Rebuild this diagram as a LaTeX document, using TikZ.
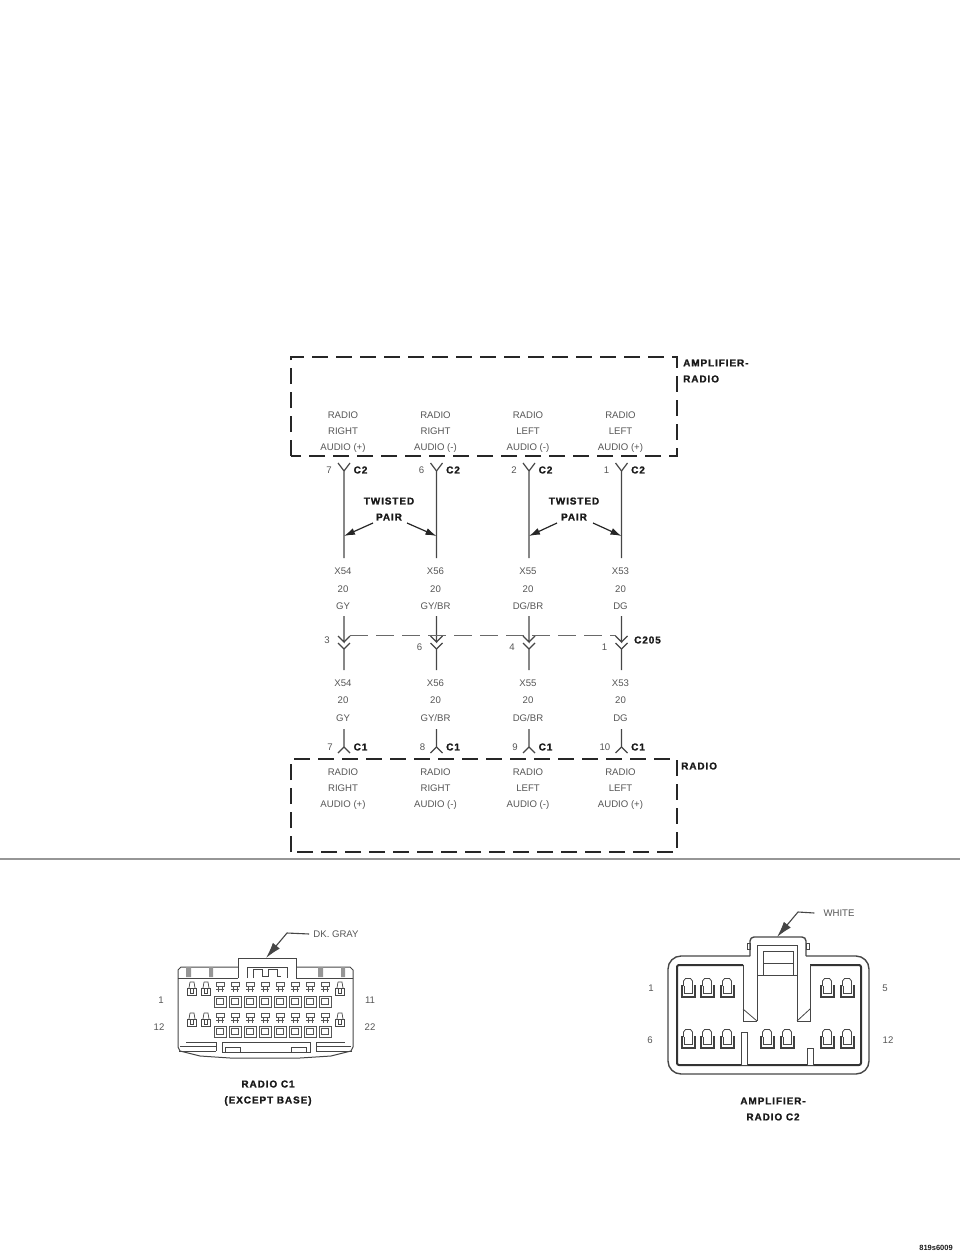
\documentclass[tikz,border=0pt]{standalone}
\usepackage{fontspec}
\setmainfont{Liberation Sans}
\newfontfamily\capsfont[LetterSpace=9,BoldFeatures={FakeBold=1.2}]{Liberation Sans}
\usetikzlibrary{arrows.meta,positioning,calc}
\definecolor{inkgray}{RGB}{70,70,70}
\definecolor{textgray}{RGB}{85,85,85}
\definecolor{rulegray}{RGB}{150,150,150}
\tikzset{
  wire/.style={draw=inkgray,line width=1.2pt},
  modulebox/.style={draw=black!85,line width=1.5pt,dash pattern=on 16pt off 8pt},
  thin label/.style={inner sep=0pt,text=textgray,font=\fontsize{9.6}{16}\selectfont,align=center},
  bold label/.style={inner sep=0pt,text=black!90,font=\capsfont\bfseries\fontsize{10}{16}\selectfont,align=center},
  pointer/.style={draw=inkgray,line width=1.1pt,-{Latex[length=16pt,width=9pt]}},
  twist arrow/.style={draw=black!85,line width=1.2pt,-{Latex[length=11pt,width=7pt]}},
  shell/.style={draw=inkgray,line width=1pt},
  shell thick/.style={draw=black!80,line width=2pt},
  pics/tpin/.style={code={
    \draw[shell,line width=.7pt,draw=textgray] (-4,-6) rectangle (4,-2);
    \draw[shell,line width=.7pt,draw=textgray] (-2,-2) -- (-2,4) (2,-2) -- (2,4) (-4,1) -- (4,1);
  }},
  pics/latchpin/.style={code={
    \draw[shell,line width=.7pt] (-2,-7) -- (2,-7) -- (3,-1) (-2,-7) -- (-3,-1);
    \draw[shell,line width=1pt] (-4.5,-1) -- (-4.5,6) -- (4.5,6) -- (4.5,-1) -- cycle;
    \draw[shell,line width=.7pt] (-1.5,-1) -- (-1.5,4) -- (1.5,4) -- (1.5,-1);
  }},
  pics/boxpin/.style={code={
    \draw[shell,line width=.7pt,draw=textgray] (-6,-5.5) rectangle (6,5.5);
    \draw[shell,line width=.8pt,draw=textgray] (-3.5,-3.5) rectangle (3.5,2.5);
  }},
  pics/socket/.style={code={
    \draw[shell,line width=.8pt] (-4.5,-2) -- (-4.5,-7) -- (-2.5,-9.5) -- (2.5,-9.5) -- (4.5,-7) -- (4.5,-2);
    \draw[draw=black!75,line width=2pt] (-6.5,-3) -- (-6.5,8.5) -- (6.5,8.5) -- (6.5,-3);
    \draw[shell,line width=.8pt] (-4,-2) -- (-4,5.5) -- (4,5.5) -- (4,-2);
  }}
}

\begin{document}
\begin{tikzpicture}[x=1pt,y=-1pt]
  \useasboundingbox (0,0) rectangle (960,1257);

  % Module boxes
  \draw[modulebox] (291,456) -- (291,357) -- (677,357) -- (677,456) -- cycle;
  \draw[modulebox] (291,852) -- (291,759) -- (677,759) -- (677,852) -- cycle;
  \node[bold label,anchor=west,align=left] (amplabel) at (683,371) {AMPLIFIER-\\RADIO};
  \node[bold label,anchor=west] (radiolabel) at (681,766) {RADIO};

  % Four circuits
  \foreach \col/\wx/\side/\sign/\wname/\tint/\pinA/\pinB/\pinC/\yB in {
    a/344/RIGHT/+/X54/GY/7/3/7/640,
    b/436.5/RIGHT/-/X56/{GY/BR}/6/6/8/647,
    c/529/LEFT/-/X55/{DG/BR}/2/4/9/647,
    d/621.5/LEFT/+/X53/DG/1/1/10/647} {
    \node[thin label] (amp\col) at (\wx-1,432.5) {RADIO\\\side\\AUDIO (\sign)};
    \node[thin label] (rad\col) at (\wx-1,789.5) {RADIO\\\side\\AUDIO (\sign)};
    % C2 side
    \coordinate (forktop\col) at (\wx,471);
    \coordinate (wireend\col) at (\wx,558);
    \draw[wire] (wireend\col) -- (forktop\col) -- ++(-6,-8);
    \draw[wire] (forktop\col) -- ++(6,-8);
    \node[thin label,anchor=east] (pintop\col) at (\wx-12,470) {\pinA};
    \node[bold label,anchor=west] (conntop\col) at (\wx+9.5,470) {C2};
    \node[thin label,font=\fontsize{9.6}{17.5}\selectfont] (upper\col) at (\wx-1,589) {\wname\\20\\\tint};
    % C205
    \coordinate (inline\col) at (\wx,616);
    \coordinate (inlinetip\col) at (\wx,642);
    \coordinate (inlinefork\col) at (\wx,649);
    \coordinate (outline\col) at (\wx,670);
    \draw[wire] (inline\col) -- (inlinetip\col) -- ++(-6,-6);
    \draw[wire] (inlinetip\col) -- ++(6,-6);
    \draw[wire] (outline\col) -- (inlinefork\col) -- ++(-6,-6);
    \draw[wire] (inlinefork\col) -- ++(6,-6);
    \node[thin label,anchor=east] (pinmid\col) at (\wx-14,\yB) {\pinB};
    \node[thin label,font=\fontsize{9.6}{17.5}\selectfont] (lower\col) at (\wx-1,700.5) {\wname\\20\\\tint};
    % C1 side
    \coordinate (dropend\col) at (\wx,729);
    \coordinate (forkbot\col) at (\wx,747);
    \draw[wire] (dropend\col) -- (forkbot\col) -- ++(-6,6);
    \draw[wire] (forkbot\col) -- ++(6,6);
    \node[thin label,anchor=east] (pinbot\col) at (\wx-11,747) {\pinC};
    \node[bold label,anchor=west] (connbot\col) at (\wx+9.5,747) {C1};
  }

  % C205 line
  \coordinate (c205start) at (350,635);
  \coordinate (c205end) at (616,635);
  \draw[draw=rulegray!70!black,line width=1pt,dash pattern=on 18pt off 8pt] (c205start) -- (c205end);
  \node[bold label,anchor=west] (c205) at (634,640) {C205};

  % Twisted pairs
  \node[bold label] (twistleft) at (389,509) {TWISTED\\PAIR};
  \node[bold label] (twistright) at (574,509) {TWISTED\\PAIR};
  \coordinate (twa) at (373,523);
  \coordinate (twb) at (407,523);
  \coordinate (twc) at (557,523);
  \coordinate (twd) at (593,523);
  \coordinate (tipa) at (344,536);
  \coordinate (tipb) at (436.5,536);
  \coordinate (tipc) at (529,536);
  \coordinate (tipd) at (621.5,536);
  \draw[twist arrow] (twa) -- (tipa);
  \draw[twist arrow] (twb) -- (tipb);
  \draw[twist arrow] (twc) -- (tipc);
  \draw[twist arrow] (twd) -- (tipd);

  % Divider
  \draw[draw=rulegray,line width=2pt] (0,858.5) -- (960,858.5);

  % Radio C1 connector
  \draw[shell] (178,978) -- (178,970) -- (181,967) -- (238,967) (296,967) -- (350,967) -- (353,970) -- (353,978);
  \draw[shell] (178,978) -- (178,1047) -- (180,1051) -- (200,1056) -- (230,1058) -- (300,1058) -- (331,1056) -- (351,1051) -- (353,1047) -- (353,978);
  \draw[shell] (178,978) -- (238,978) (296,978) -- (353,978);
  \draw[shell] (238,978) -- (238,958) -- (296,958) -- (296,978);
  \draw[shell] (247,978) -- (247,967) -- (287,967) -- (287,978);
  \draw[shell,line width=.8pt] (253,978) -- (253,969) -- (262,969) -- (262,976) -- (268,976) -- (268,969) -- (277,969) -- (277,976) -- (281,976);
  \fill[rulegray] (186,967) rectangle (191,977) (209,967) rectangle (213,977) (318,967) rectangle (323,977) (341,967) rectangle (345,977);
  \foreach \px in {220,235,250,265,280,295,310,325} {
    \pic at (\px,988) {tpin};
    \pic at (\px,1002) {boxpin};
    \pic at (\px,1019) {tpin};
    \pic at (\px,1032) {boxpin};
  }
  \foreach \px in {192,206,340} {
    \pic at (\px,989) {latchpin};
    \pic at (\px,1020) {latchpin};
  }
  \draw[shell,line width=.8pt] (180,1046) -- (216,1046) (222,1042) -- (310,1042) (316,1046) -- (351,1046);
  \draw[shell] (179,1051) -- (216,1051) (352,1051) -- (316,1051);
  \draw[shell] (186,1042) -- (216,1042) -- (216,1051) (316,1051) -- (316,1042) -- (345,1042);
  \draw[shell,line width=.8pt] (222,1042) -- (222,1052) -- (310,1052) -- (310,1042);
  \draw[shell,line width=.8pt] (225,1047) rectangle (240,1052) (291,1047) rectangle (306,1052);
  \node[thin label] (c1one) at (161,1000) {1};
  \node[thin label] (c1eleven) at (370,1000) {11};
  \node[thin label] (c1twelve) at (159,1027) {12};
  \node[thin label] (c1last) at (370,1027) {22};
  \node[thin label] (dkgray) at (336,934) {DK. GRAY};
  \coordinate (dkbend) at (287,933);
  \coordinate (dktip) at (266,958);
  \draw[pointer] (dkgray.west) ++(-4,0) -- (dkbend) -- (dktip);
  \node[bold label] (c1title) at (268,1093) {RADIO C1\\(EXCEPT BASE)};

  % Amplifier C2 connector
  \draw[shell,line width=1.4pt,rounded corners=13pt] (750,956) -- (668,956) -- (668,1074) -- (869,1074) -- (869,956) -- (806,956);
  \draw[shell,line width=1.4pt,rounded corners=4pt] (750,956) -- (750,937) -- (806,937) -- (806,956);
  \draw[shell thick,rounded corners=2pt] (743,965) -- (677,965) -- (677,1065) -- (861,1065) -- (861,965) -- (810,965);
  \draw[shell] (743,965) -- (743,1021) -- (757,1021);
  \draw[shell] (810,965) -- (810,1021) -- (797,1021);
  \draw[shell] (757,1021) -- (757,945) -- (797,945) -- (797,1021);
  \draw[shell,line width=.8pt] (743,1009) -- (757,1021) (810,1009) -- (797,1021);
  \draw[shell,line width=.8pt] (763,975) -- (763,951) -- (793,951) -- (793,975) (763,963) -- (793,963) (757,975) -- (797,975);
  \draw[shell,line width=.8pt] (747,943) rectangle (750,949) (806,943) rectangle (809,949);
  \foreach \px in {688,707,727,827,847} {
    \pic at (\px,988) {socket};
  }
  \foreach \px in {688,707,727,767,787,827,847} {
    \pic at (\px,1039) {socket};
  }
  \draw[shell,line width=.8pt,fill=white] (741,1032) rectangle (747,1065);
  \draw[shell,line width=.8pt,fill=white] (807,1048) rectangle (813,1065);
  \node[thin label] (c2one) at (651,988) {1};
  \node[thin label] (c2five) at (885,988) {5};
  \node[thin label] (c2six) at (650,1040) {6};
  \node[thin label] (c2last) at (888,1040) {12};
  \node[thin label] (whitelabel) at (839,913) {WHITE};
  \coordinate (whitebend) at (798,912);
  \coordinate (whitetip) at (777,937);
  \draw[pointer] (whitelabel.west) ++(-9,0) -- (whitebend) -- (whitetip);
  \node[bold label] (c2title) at (773,1109) {AMPLIFIER-\\RADIO C2};

  % Figure number
  \node[bold label,font=\bfseries\fontsize{7.5}{7.5}\selectfont] (fignum) at (936,1248) {819s6009};
\end{tikzpicture}
\end{document}
